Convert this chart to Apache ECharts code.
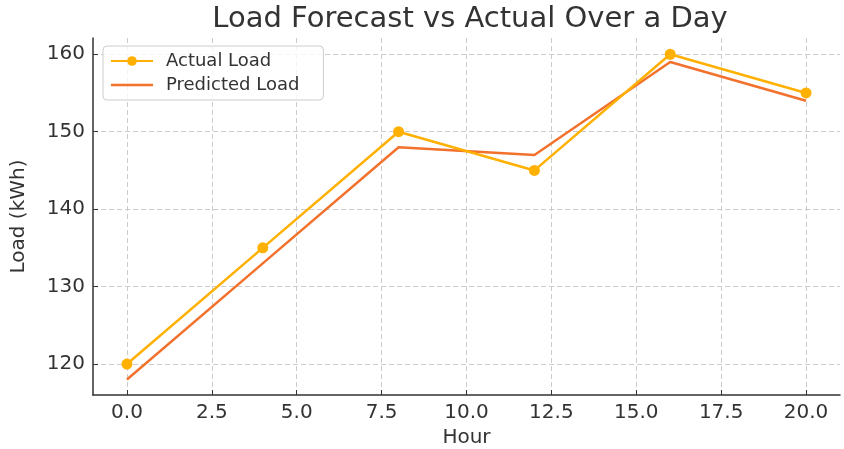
<!DOCTYPE html>
<html>
<head>
<meta charset="utf-8">
<script src="https://cdn.jsdelivr.net/npm/echarts@6/dist/echarts.min.js"></script>
<style>html,body{margin:0;padding:0;background:#fff}#c{width:844px;height:449px}</style>
</head>
<body>
<div id="c"></div>
<script>
const hours = [0, 4, 8, 12, 16, 20];
const actualLoad = [120, 135, 150, 145, 160, 155];
const predictedLoad = [118, 133, 148, 147, 159, 154];
const xTicks = [0, 2.5, 5, 7.5, 10, 12.5, 15, 17.5, 20];
const yTicks = [120, 130, 140, 150, 160];

const font = 'DejaVu Sans';
const chart = echarts.init(document.getElementById('c'));
chart.setOption({
  backgroundColor: '#fff',
  animation: false,
  title: {
    text: 'Load Forecast vs Actual Over a Day',
    left: 465, top: 0, textAlign: 'center',
    textStyle: { fontFamily: font, fontSize: 29, fontWeight: 'normal', color: '#333' }
  },
  legend: {
    left: 103, top: 46, orient: 'vertical',
    itemWidth: 42, itemHeight: 12, itemGap: 6,
    padding: [6, 24, 6, 7],
    borderColor: '#ccc', borderWidth: 1, borderRadius: 4,
    backgroundColor: 'rgba(255,255,255,0.8)',
    textStyle: { fontFamily: font, fontSize: 18, color: '#333', padding: [0, 0, 0, 8] },
    data: [
      { name: 'Actual Load' },
      { name: 'Predicted Load', icon: 'path://M0,0L0,0M0,12L0,12M0,4.7L42,4.7L42,7.3L0,7.3Z' }
    ]
  },
  grid: { left: 93, right: 4, top: 38, bottom: 54, containLabel: false, outerBoundsMode: 'none' },
  xAxis: {
    type: 'value', min: -1, max: 21,
    name: 'Hour', nameLocation: 'middle', nameGap: 28,
    nameTextStyle: { fontFamily: font, fontSize: 20, color: '#333' },
    axisLine: { show: true, onZero: false, lineStyle: { color: '#333', width: 1.5 } },
    axisTick: { show: true, inside: true, length: 5, customValues: xTicks, lineStyle: { color: '#333' } },
    axisLabel: { customValues: xTicks, fontFamily: font, fontSize: 20, color: '#333', margin: 8,
      formatter: v => v.toFixed(1) },
    splitLine: { show: true, lineStyle: { color: '#ccc', type: [5, 3], width: 1 } }
  },
  yAxis: {
    type: 'value', min: 116, max: 162.1,
    name: 'Load (kWh)', nameLocation: 'middle', nameGap: 64, nameRotate: 90,
    nameTextStyle: { fontFamily: font, fontSize: 20, color: '#333' },
    axisLine: { show: true, onZero: false, lineStyle: { color: '#333', width: 1.5 } },
    axisTick: { show: true, inside: true, length: 5, customValues: yTicks, lineStyle: { color: '#333' } },
    axisLabel: { customValues: yTicks, fontFamily: font, fontSize: 20, color: '#333', margin: 8 },
    splitLine: { show: true, lineStyle: { color: '#ccc', type: [5, 3], width: 1 } }
  },
  series: [
    {
      name: 'Actual Load', type: 'line',
      data: hours.map((h, i) => [h, actualLoad[i]]),
      symbol: 'circle', symbolSize: 11,
      lineStyle: { color: '#FFB000', width: 2.5 },
      itemStyle: { color: '#FFB000' },
      z: 3
    },
    {
      name: 'Predicted Load', type: 'line',
      data: hours.map((h, i) => [h, predictedLoad[i]]),
      symbol: 'none',
      lineStyle: { color: '#F2712C', width: 2.5 },
      itemStyle: { color: '#F2712C' },
      z: 2
    }
  ]
});
</script>
</body>
</html>
